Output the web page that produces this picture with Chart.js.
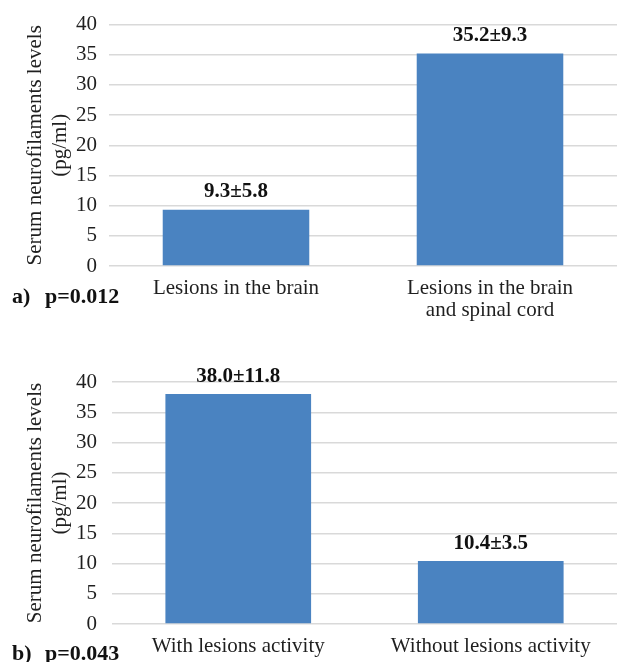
<!DOCTYPE html>
<html>
<head>
<meta charset="utf-8">
<script src="https://cdn.jsdelivr.net/npm/chart.js@4"></script>
<style>
  body { margin: 0; background: #fff; width: 618px; height: 662px; position: relative; overflow: hidden; }
  .box { position: absolute; left: 0; width: 618px; }
  .plabel { position: absolute; font: bold 22px "Liberation Serif", "Times New Roman", serif; color: #111; line-height: 22px; white-space: pre; }
</style>
</head>
<body>
<div class="box" style="top:0;height:330px"><canvas id="chartA"></canvas></div>
<div class="box" style="top:330px;height:332px"><canvas id="chartB"></canvas></div>
<div class="plabel" style="top:285px;left:12px">a)</div>
<div class="plabel" style="top:285px;left:45px">p=0.012</div>
<div class="plabel" style="top:642px;left:12px">b)</div>
<div class="plabel" style="top:642px;left:45px">p=0.043</div>
<script>
// panel a
const categoriesA = ['Lesions in the brain', ['Lesions in the brain', 'and spinal cord']];
const valuesA = [9.3, 35.2];
const barLabelsA = ['9.3±5.8', '35.2±9.3'];

// panel b
const categoriesB = ['With lesions activity', 'Without lesions activity'];
const valuesB = [38.0, 10.4];
const barLabelsB = ['38.0±11.8', '10.4±3.5'];

const yMax = 40;
const yStep = 5;
const yTitle = ['Serum neurofilaments levels', '(pg/ml)'];

const serif = '"Liberation Serif", "Times New Roman", serif';
const textColor = '#1f1f1f';
const barColor = '#4a83c1';
const gridColor = '#d9d9d9';

// draws the mean±sd text above each bar
const barText = {
    id: 'barText',
    afterDatasetsDraw(chart, args, opts) {
        const ctx = chart.ctx;
        const meta = chart.getDatasetMeta(0);
        ctx.save();
        ctx.font = 'bold 21px ' + serif;
        ctx.fillStyle = '#111';
        ctx.textAlign = 'center';
        ctx.textBaseline = 'middle';
        meta.data.forEach((bar, i) => {
            ctx.fillText(opts.labels[i], bar.x, bar.y - 18);
        });
        ctx.restore();
    }
};

function makeChart(id, cats, vals, labels, dims) {
    return new Chart(document.getElementById(id), {
        type: 'bar',
        data: {
            labels: cats,
            datasets: [{
                data: vals,
                backgroundColor: barColor,
                categoryPercentage: 0.577,
                barPercentage: 1
            }]
        },
        options: {
            responsive: true,
            maintainAspectRatio: false,
            animation: false,
            layout: { padding: { top: dims.top, right: 1, left: 0, bottom: 0 } },
            plugins: {
                legend: { display: false },
                tooltip: { enabled: false },
                barText: { labels: labels }
            },
            scales: {
                x: {
                    grid: { display: false },
                    border: { display: false },
                    ticks: {
                        color: textColor,
                        font: { family: serif, size: 21, lineHeight: 1.05 },
                        padding: 3,
                        maxRotation: 0,
                        autoSkip: false
                    },
                    afterFit(scale) { scale.height = dims.xHeight; }
                },
                y: {
                    min: 0,
                    max: yMax,
                    ticks: {
                        stepSize: yStep,
                        color: textColor,
                        font: { family: serif, size: 21 },
                        padding: dims.tickPad
                    },
                    grid: { color: gridColor, lineWidth: 1.5, drawTicks: false },
                    border: { display: false },
                    title: {
                        display: true,
                        text: yTitle,
                        color: textColor,
                        font: { family: serif, size: 21, lineHeight: 1.2 },
                        padding: { top: 23, bottom: 0 }
                    },
                    afterFit(scale) { scale.width = dims.yWidth; }
                }
            }
        },
        plugins: [barText]
    });
}

makeChart('chartA', categoriesA, valuesA, barLabelsA, { top: 22, xHeight: 64, yWidth: 109, tickPad: 12 });
makeChart('chartB', categoriesB, valuesB, barLabelsB, { top: 52, xHeight: 38, yWidth: 112, tickPad: 15 });
</script>
</body>
</html>
